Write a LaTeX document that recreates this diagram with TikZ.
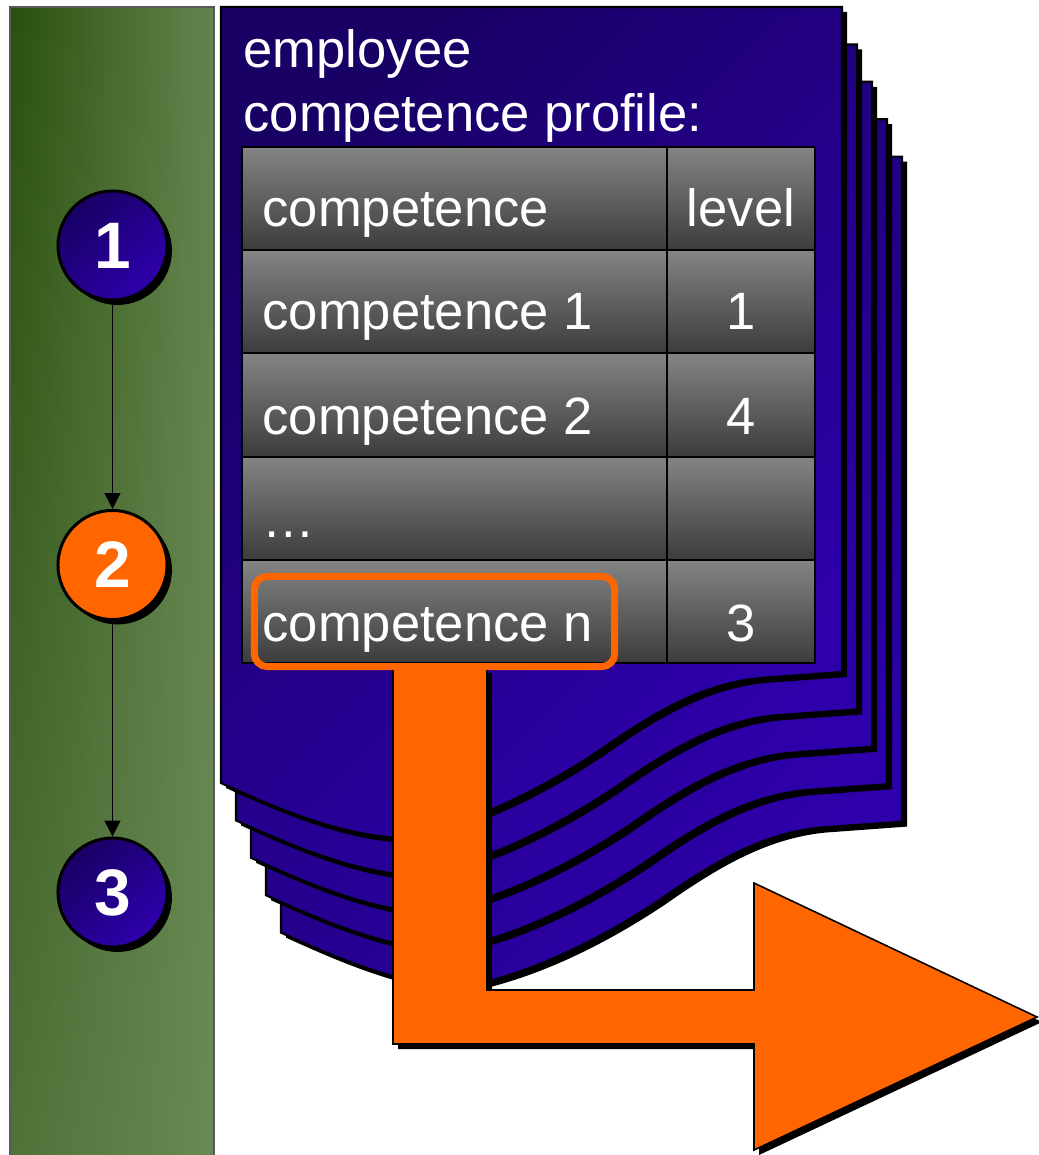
\documentclass[tikz,border=0pt]{standalone}
\usepackage{fontspec}
\setmainfont{Liberation Sans}
\usetikzlibrary{arrows.meta,shadows,fadings}
\definecolor{gnA}{RGB}{42,80,14}
\definecolor{gnB}{RGB}{100,132,78}
\definecolor{gnC}{RGB}{112,142,92}
\definecolor{pgA}{RGB}{24,0,100}
\definecolor{pgB}{RGB}{46,0,172}
\definecolor{orng}{RGB}{255,102,0}
\definecolor{cellA}{RGB}{132,132,132}
\definecolor{cellB}{RGB}{60,60,60}
\tikzfading[name=panelfade, top color=transparent!100, bottom color=transparent!45]
\def\pagepath{(221,7) -- (842,7) -- (842,672) -- (760,678) .. controls (700,684) and (650,715) .. (600,750) .. controls (540,790) and (470,825) .. (400,838) .. controls (340,835) and (280,810) .. (221,783) -- cycle}
\def\arrowpath{(393,668) -- (487,668) -- (487,990) -- (754,990) -- (754,883) -- (1037,1017) -- (754,1150) -- (754,1044) -- (393,1044) -- cycle}
\begin{document}
\begin{tikzpicture}[x=0.01cm,y=-0.01cm,
  panel/.style={left color=gnA, right color=gnB},
  panelfront/.style={draw=gray!70!black, line width=0.4pt},
  pageshape/.style={top color=pgA, bottom color=pgB, shading angle=45, draw=black, line width=0.6pt},
  cell/.style={top color=cellA, bottom color=cellB, draw=black, line width=0.6pt},
  txt/.style={text=white, inner sep=0pt, font=\fontsize{14.94pt}{18pt}\selectfont},
  circ/.style={circle, draw=black, line width=0.85pt, minimum size=1.09cm, inner sep=0pt,
    text=white, font=\fontsize{18.7pt}{20pt}\selectfont\bfseries,
    general shadow={fill=black, shadow xshift=1.4pt, shadow yshift=-1.4pt}},
  blueball/.style={top color=pgA, bottom color=pgB, shading angle=45},
  conn/.style={draw=black, line width=0.45pt, -{Triangle[length=4.5pt,width=4.5pt]}},
  bigarrow/.style={fill=orng, draw=black, line width=0.45pt},
  selbox/.style={draw=orng, line width=2pt, rounded corners=3.6pt, minimum width=3.6cm, minimum height=0.9cm, inner sep=0pt}
]
\useasboundingbox (0,0) rectangle (1038,1155);
% left panel
\path[panel] (10,7) rectangle (214,1160);
\fill[gnC, path fading=panelfade] (10,7) rectangle (214,1160);
\path[panelfront] (10,7) rectangle (214,1160);
% step circles
\node[circ, blueball] (c1) at (112.5,245.5) {1};
\node[circ, fill=orng] (c2) at (112.5,565) {2};
\node[circ, blueball] (c3) at (112.5,892.5) {3};
\draw[conn] (c1) -- (c2);
\draw[conn] (c2) -- (c3);
% stacked pages
\foreach \k in {4,3,2,1,0} {
  \begin{scope}[shift={(15*\k,37.4*\k)}]
    \fill[black, shift={(5,5)}] \pagepath;
    \path[pageshape] \pagepath;
  \end{scope}
}
% title
\node[txt, anchor=base west] (t1) at (243,68) {employee};
\node[txt, anchor=base west] (t2) at (243,132) {competence profile:};
% table cells
\foreach \r in {0,...,4} {
  \pgfmathsetmacro{\yt}{147+103.2*\r}
  \pgfmathsetmacro{\yb}{147+103.2*(\r+1)}
  \path[cell] (242,\yt) rectangle (667,\yb);
  \path[cell] (667,\yt) rectangle (815,\yb);
}
\node[txt, anchor=base west] (h1) at (262,227) {competence};
\node[txt, anchor=base] (h2) at (741,227) {level};
\node[txt, anchor=base west] (r1a) at (262,330) {competence 1};
\node[txt, anchor=base] (r1b) at (741,330) {1};
\node[txt, anchor=base west] (r2a) at (262,434) {competence 2};
\node[txt, anchor=base] (r2b) at (741,434) {4};
\node[txt, anchor=base west] (r3a) at (262,537) {…};
\node[txt, anchor=base west] (r4a) at (262,641) {competence n};
\node[txt, anchor=base] (r4b) at (741,641) {3};
% big arrow
\fill[black, shift={(5,5)}] \arrowpath;
\path[bigarrow] \arrowpath;
% selection box
\node[selbox] (sel) at (434.5,621.5) {};
\end{tikzpicture}
\end{document}
